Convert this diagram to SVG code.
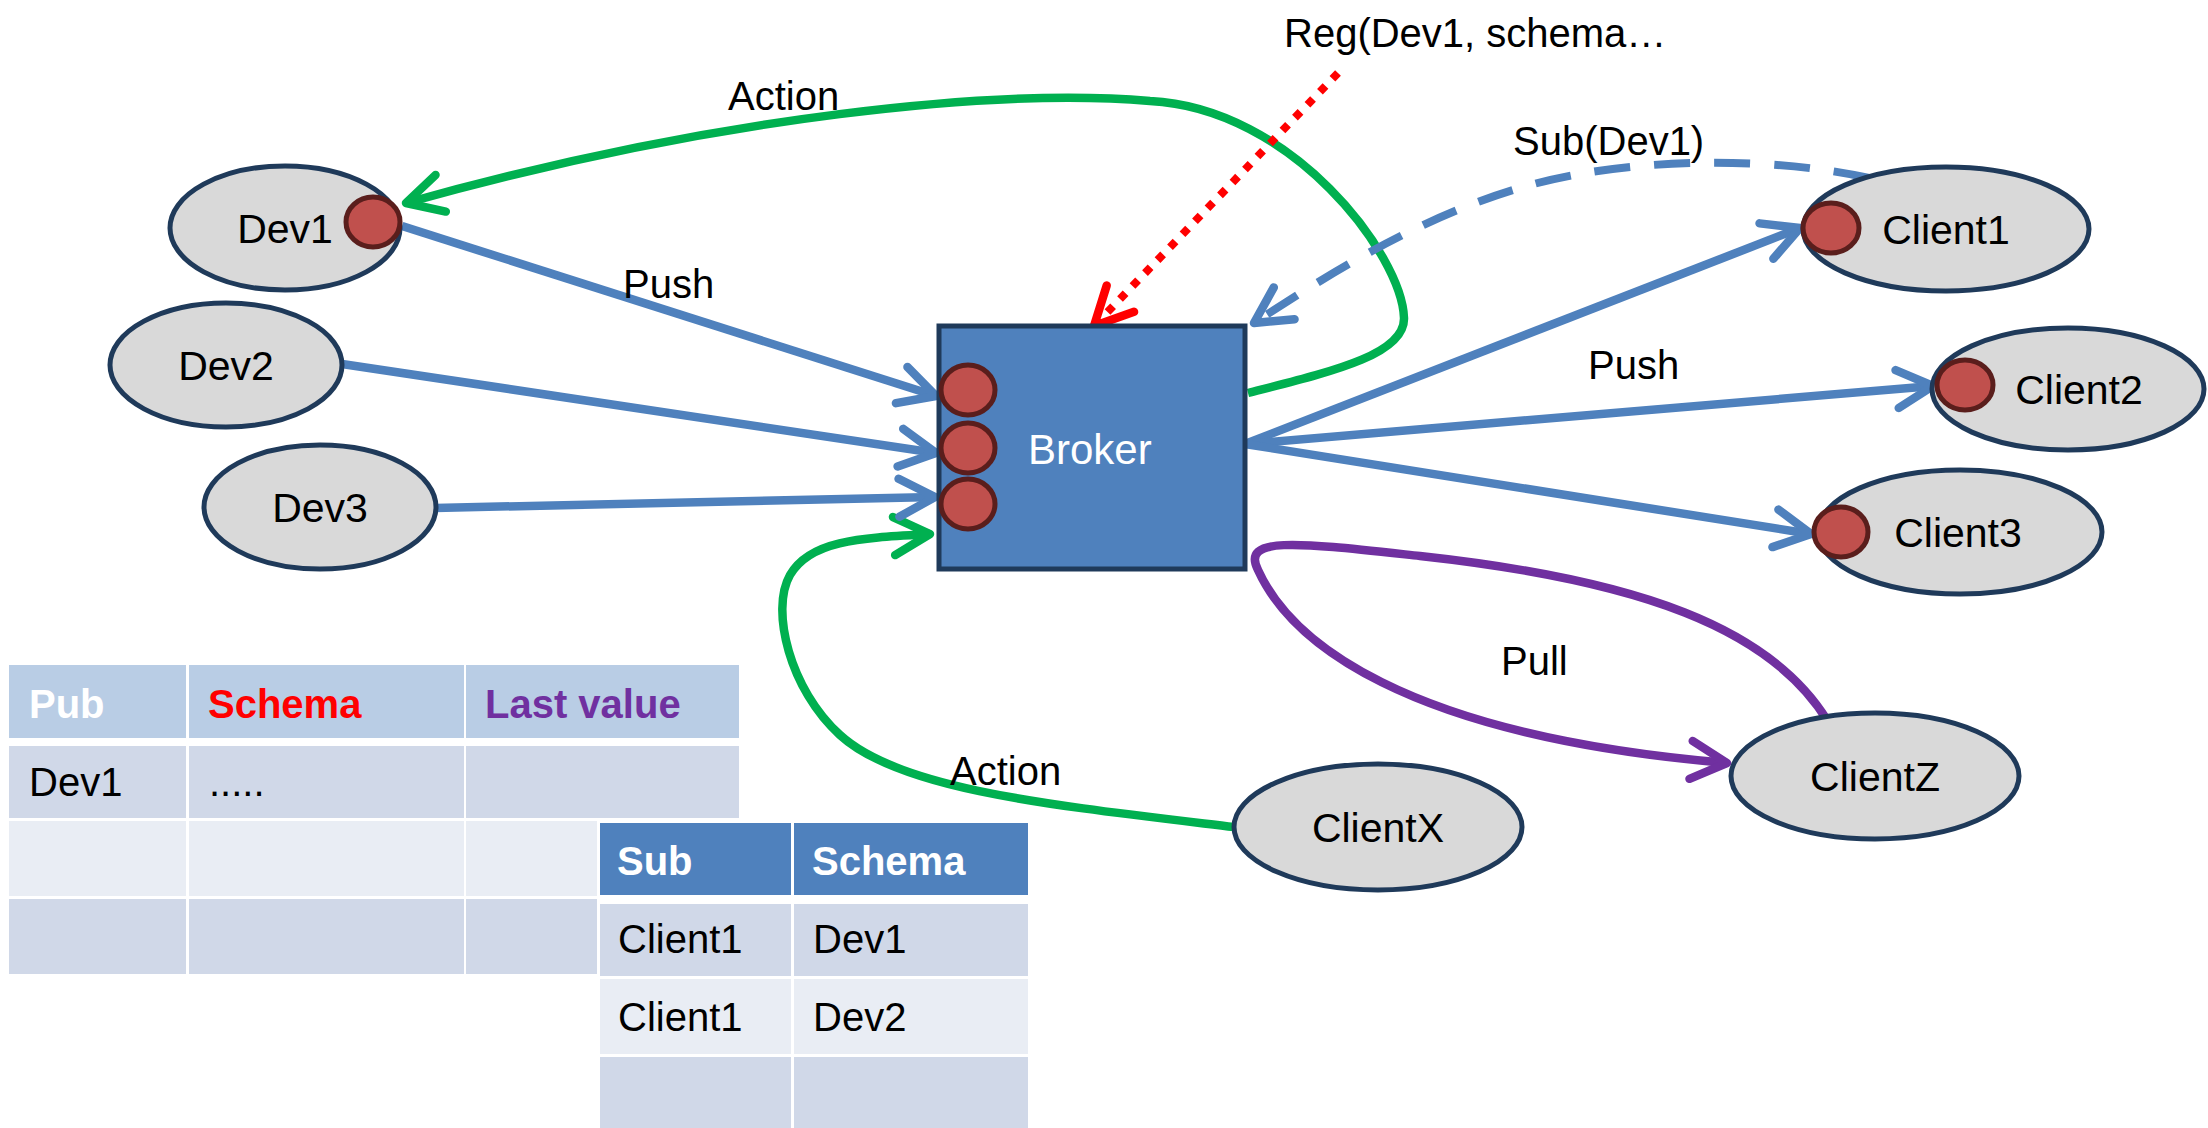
<svg xmlns="http://www.w3.org/2000/svg" width="2208" height="1128" viewBox="0 0 2208 1128">
  <style>
    text { font-family: "Liberation Sans", Arial, sans-serif; font-size: 40px; fill: #000; }
    .node { fill: #D9D9D9; stroke: #1F3A5A; stroke-width: 5; }
    .port { fill: #C0504D; stroke: #5A1E1C; stroke-width: 5; }
    .nlabel { font-size: 41px; text-anchor: middle; }
    .wire { fill: none; stroke-width: 8.5; }
    .blue { stroke: #4F81BD; }
    .green { stroke: #00B050; }
    .purple { stroke: #7030A0; }
    .red { stroke: #FF0000; stroke-width: 8; stroke-dasharray: 8 10; }
    .dash { stroke-dasharray: 36 24; stroke-width: 8; }
    .hdr1 { fill: #B9CDE5; }
    .hdr2 { fill: #4F81BD; }
    .band1 { fill: #D0D8E8; }
    .band2 { fill: #E9EDF4; }
    .th { font-weight: bold; }
  </style>
  <defs>
    <marker id="ah-blue" markerUnits="userSpaceOnUse" orient="auto" overflow="visible" markerWidth="1" markerHeight="1">
      <path d="M-36,-19 L0,0 L-36,19" fill="none" stroke="#4F81BD" stroke-width="8.5" stroke-linecap="round" stroke-linejoin="round"/>
    </marker>
    <marker id="ah-green" markerUnits="userSpaceOnUse" orient="auto" overflow="visible" markerWidth="1" markerHeight="1">
      <path d="M-36,-19 L0,0 L-36,19" fill="none" stroke="#00B050" stroke-width="8.5" stroke-linecap="round" stroke-linejoin="round"/>
    </marker>
    <marker id="ah-purple" markerUnits="userSpaceOnUse" orient="auto" overflow="visible" markerWidth="1" markerHeight="1">
      <path d="M-36,-19 L0,0 L-36,19" fill="none" stroke="#7030A0" stroke-width="8.5" stroke-linecap="round" stroke-linejoin="round"/>
    </marker>
    <marker id="ah-red" markerUnits="userSpaceOnUse" orient="auto" overflow="visible" markerWidth="1" markerHeight="1">
      <path d="M-38,-19 L0,0 L-38,19" fill="none" stroke="#FF0000" stroke-width="8.5" stroke-linecap="round" stroke-linejoin="round"/>
    </marker>
  </defs>

  <rect width="2208" height="1128" fill="#FFFFFF"/>

  <!-- Publisher table -->
  <g id="pub-table">
    <rect class="hdr1" x="9" y="665" width="177" height="73"/>
    <rect class="hdr1" x="189" y="665" width="275" height="73"/>
    <rect class="hdr1" x="466" y="665" width="273" height="73"/>
    <rect class="band1" x="9" y="746" width="177" height="72"/>
    <rect class="band1" x="189" y="746" width="275" height="72"/>
    <rect class="band1" x="466" y="746" width="273" height="72"/>
    <rect class="band2" x="9" y="821" width="177" height="75"/>
    <rect class="band2" x="189" y="821" width="275" height="75"/>
    <rect class="band2" x="466" y="821" width="273" height="75"/>
    <rect class="band1" x="9" y="899" width="177" height="75"/>
    <rect class="band1" x="189" y="899" width="275" height="75"/>
    <rect class="band1" x="466" y="899" width="273" height="75"/>
    <text class="th" x="29" y="718" style="fill:#FFFFFF">Pub</text>
    <text class="th" x="208" y="718" style="fill:#FF0000">Schema</text>
    <text class="th" x="485" y="718" style="fill:#7030A0">Last value</text>
    <text x="29" y="796">Dev1</text>
    <text x="209" y="796">.....</text>
  </g>

  <!-- Subscriber table -->
  <g id="sub-table">
    <rect x="597" y="820" width="434" height="308" fill="#FFFFFF"/>
    <rect class="hdr2" x="600" y="823" width="191" height="72"/>
    <rect class="hdr2" x="794" y="823" width="234" height="72"/>
    <rect class="band1" x="600" y="904" width="191" height="72"/>
    <rect class="band1" x="794" y="904" width="234" height="72"/>
    <rect class="band2" x="600" y="979" width="191" height="75"/>
    <rect class="band2" x="794" y="979" width="234" height="75"/>
    <rect class="band1" x="600" y="1057" width="191" height="71"/>
    <rect class="band1" x="794" y="1057" width="234" height="71"/>
    <text class="th" x="617" y="875" style="fill:#FFFFFF">Sub</text>
    <text class="th" x="812" y="875" style="fill:#FFFFFF">Schema</text>
    <text x="618" y="953">Client1</text>
    <text x="813" y="953">Dev1</text>
    <text x="618" y="1031">Client1</text>
    <text x="813" y="1031">Dev2</text>
  </g>

  <!-- Connectors -->
  <g id="connectors">
    <!-- Action: broker back to Dev1 -->
    <path class="wire green" d="M1248,393 C1330,372 1405,355 1404,318 C1402,255 1292,108 1150,101 C1000,88 720,115 406,203" marker-end="url(#ah-green)"/>
    <!-- Action: ClientX to broker -->
    <path class="wire green" d="M1234,827 C1050,805 900,790 840,735 C790,690 770,610 790,575 C810,540 860,538 930,534" marker-end="url(#ah-green)"/>
    <!-- Pull: ClientZ via broker -->
    <path class="wire purple" d="M1827,720 C1770,628 1640,580 1420,556 C1300,543 1240,535 1258,570 C1290,640 1400,735 1727,763" marker-end="url(#ah-purple)"/>
    <!-- Push: devices to broker ports -->
    <path class="wire blue" d="M402,226 L936,396" marker-end="url(#ah-blue)"/>
    <path class="wire blue" d="M342,364 L936,453" marker-end="url(#ah-blue)"/>
    <path class="wire blue" d="M435,508 L935,497" marker-end="url(#ah-blue)"/>
    <!-- Push: broker to clients -->
    <path class="wire blue" d="M1245,444 L1800,228" marker-end="url(#ah-blue)"/>
    <path class="wire blue" d="M1245,444 L1933,386" marker-end="url(#ah-blue)"/>
    <path class="wire blue" d="M1245,444 L1811,534" marker-end="url(#ah-blue)"/>
    <!-- Sub(Dev1): Client1 to broker -->
    <path class="wire blue dash" d="M1869,178 C1780,158 1640,155 1530,185 C1420,215 1320,280 1254,323" marker-end="url(#ah-blue)"/>
    <!-- Reg: registration into broker -->
    <path class="wire red" d="M1338,73 L1094,326" marker-end="url(#ah-red)"/>

    <text x="728" y="110">Action</text>
    <text x="623" y="298">Push</text>
    <text x="1284" y="47">Reg(Dev1, schema…</text>
    <text x="1513" y="155">Sub(Dev1)</text>
    <text x="1588" y="379">Push</text>
    <text x="1501" y="675">Pull</text>
    <text x="950" y="785">Action</text>
  </g>

  <!-- Broker -->
  <g id="broker">
    <rect x="939" y="326" width="306" height="243" fill="#4F81BD" stroke="#1F3A5A" stroke-width="5"/>
    <ellipse class="port" cx="968" cy="390" rx="27" ry="25"/>
    <ellipse class="port" cx="968" cy="448" rx="27" ry="25"/>
    <ellipse class="port" cx="968" cy="504" rx="27" ry="25"/>
    <text x="1028" y="464" style="fill:#FFFFFF; font-size:42px">Broker</text>
  </g>

  <!-- Devices -->
  <g id="dev1">
    <ellipse class="node" cx="285" cy="228" rx="115" ry="62"/>
    <text class="nlabel" x="285" y="243">Dev1</text>
    <ellipse class="port" cx="373" cy="222" rx="27" ry="25"/>
  </g>
  <g id="dev2">
    <ellipse class="node" cx="226" cy="365" rx="116" ry="62"/>
    <text class="nlabel" x="226" y="380">Dev2</text>
  </g>
  <g id="dev3">
    <ellipse class="node" cx="320" cy="507" rx="116" ry="62"/>
    <text class="nlabel" x="320" y="522">Dev3</text>
  </g>

  <!-- Clients -->
  <g id="client1">
    <ellipse class="node" cx="1946" cy="229" rx="143" ry="62"/>
    <ellipse class="port" cx="1831" cy="228" rx="28" ry="25"/>
    <text class="nlabel" x="1946" y="244">Client1</text>
  </g>
  <g id="client2">
    <ellipse class="node" cx="2068" cy="389" rx="136" ry="61"/>
    <ellipse class="port" cx="1965" cy="385" rx="28" ry="25"/>
    <text class="nlabel" x="2079" y="404">Client2</text>
  </g>
  <g id="client3">
    <ellipse class="node" cx="1960" cy="532" rx="142" ry="62"/>
    <ellipse class="port" cx="1841" cy="532" rx="27" ry="25"/>
    <text class="nlabel" x="1958" y="547">Client3</text>
  </g>
  <g id="clientx">
    <ellipse class="node" cx="1378" cy="827" rx="144" ry="63"/>
    <text class="nlabel" x="1378" y="842">ClientX</text>
  </g>
  <g id="clientz">
    <ellipse class="node" cx="1875" cy="776" rx="144" ry="63"/>
    <text class="nlabel" x="1875" y="791">ClientZ</text>
  </g>
</svg>
